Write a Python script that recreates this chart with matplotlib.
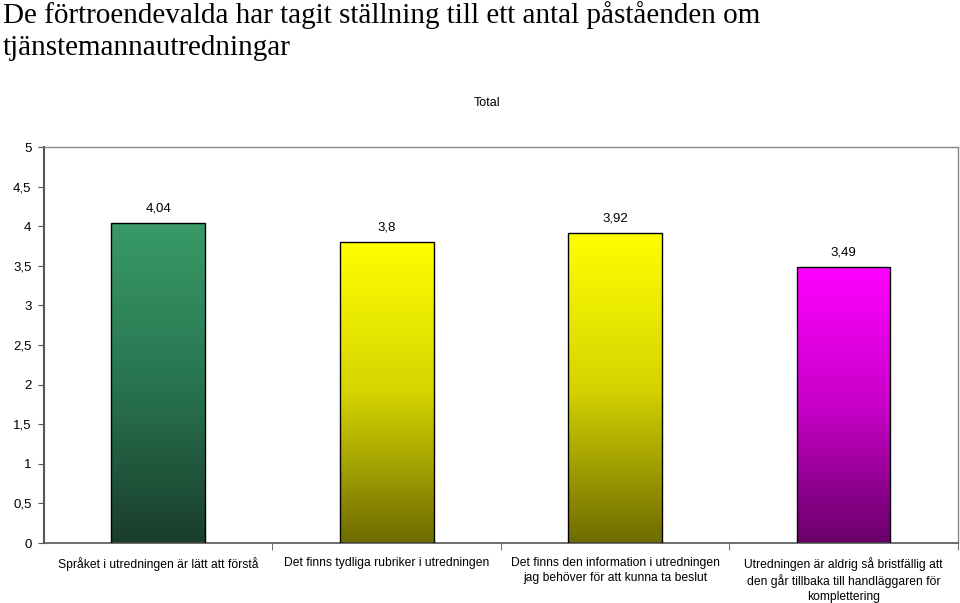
import numpy as np
import matplotlib
matplotlib.use("Agg")
import matplotlib.pyplot as plt
from matplotlib.colors import LinearSegmentedColormap

plt.rcParams['font.family'] = ['Liberation Sans', 'DejaVu Sans']

categories = ["Språket i utredningen är lätt att förstå",
              "Det finns tydliga rubriker i utredningen",
              "Det finns den information i utredningen\njag behöver för att kunna ta beslut",
              "Utredningen är aldrig så bristfällig att\nden går tillbaka till handläggaren för\nkomplettering"]
values = [4.04, 3.8, 3.92, 3.49]
value_labels = ["4,04", "3,8", "3,92", "3,49"]
yticks = [0, 0.5, 1, 1.5, 2, 2.5, 3, 3.5, 4, 4.5, 5]
ytick_labels = ["0", "0,5", "1", "1,5", "2", "2,5", "3", "3,5", "4", "4,5", "5"]
# gradient colours: (top, mid, bottom)
bar_colors = [("#399a68", "#287550", "#1a3d2c"),
              ("#ffff00", "#d6d400", "#6e6c00"),
              ("#ffff00", "#d6d400", "#6e6c00"),
              ("#ff00ff", "#c800c8", "#6a006a")]

fig = plt.figure(figsize=(9.6, 6.03), dpi=100)
ax = fig.add_axes([0.0458, 0.0995, 0.952, 0.6567])

x = np.arange(len(values))
bars = ax.bar(x, values, width=0.41, facecolor='none', edgecolor='black', linewidth=1, zorder=3)

grad = np.linspace(0, 1, 256).reshape(-1, 1)
for b, (top, mid, bottom) in zip(bars, bar_colors):
    cmap = LinearSegmentedColormap.from_list('g', [bottom, mid, top])
    x0, y0 = b.get_x(), b.get_y()
    im = ax.imshow(grad, cmap=cmap, origin='lower', aspect='auto',
                   extent=[x0, x0 + b.get_width(), y0, y0 + b.get_height()], zorder=2)
    im.set_clip_path(b)

for xi, v, lab in zip(x, values, value_labels):
    ax.annotate(lab, (xi, v), xytext=(0, 6), textcoords='offset points',
                ha='center', va='bottom', fontsize=9.5)

ax.set_xlim(-0.5, 3.5)
ax.set_ylim(0, 5)
ax.set_yticks(yticks)
ax.set_yticklabels(ytick_labels, fontsize=9.5)
ax.set_xticks(x)
ax.set_xticklabels(categories, fontsize=8.7, linespacing=1.3)
ax.tick_params(axis='x', length=0, pad=10)
ax.set_xticks([0.5, 1.5, 2.5, 3.5], minor=True)
ax.tick_params(axis='x', which='minor', length=5, color='#555555')
ax.tick_params(axis='y', length=4, color='#555555', pad=5)

for s in ['top', 'right']:
    ax.spines[s].set_color('#888888')
    ax.spines[s].set_linewidth(1)
ax.spines['left'].set_color('#555555')
ax.spines['left'].set_linewidth(1.5)
ax.spines['bottom'].set_color('#555555')
ax.spines['bottom'].set_linewidth(1.2)

fig.text(0.003, 0.999, "De förtroendevalda har tagit ställning till ett antal påståenden om\ntjänstemannautredningar",
         family='Liberation Serif', fontsize=21, va='top', ha='left', linespacing=1.3)
fig.text(0.507, 0.83, "Total", fontsize=9, ha='center', va='center')

fig.savefig("out.png", dpi=100)
